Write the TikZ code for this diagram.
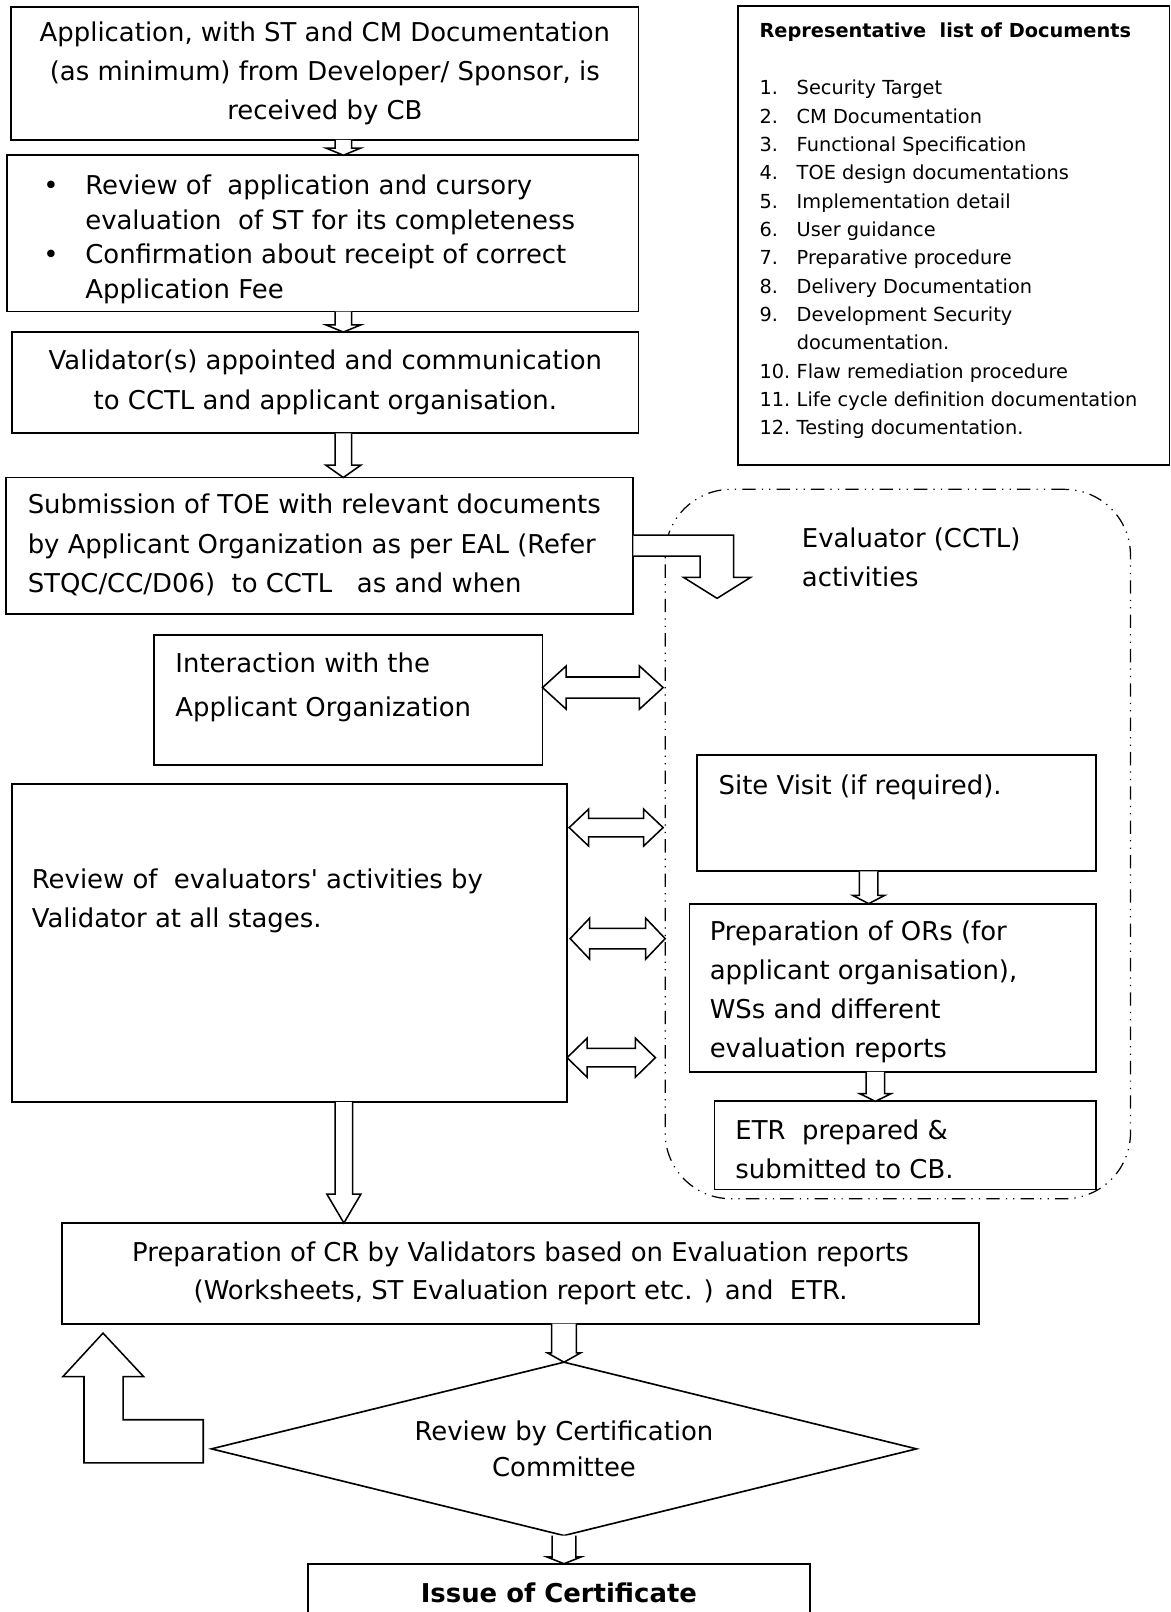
\documentclass[tikz,border=0pt]{standalone}
\usepackage{fontspec}
\setmainfont{DejaVu Sans}
\usetikzlibrary{calc,fit,shapes.geometric}

\newcommand{\vblock}[5]{%
  \draw[blk] ($(#1)+(-#3,0)$) -- ($(#2)+(-#3,-#5)$) -- ($(#2)+(-#4,-#5)$) -- (#2)
    -- ($(#2)+(#4,-#5)$) -- ($(#2)+(#3,-#5)$) -- ($(#1)+(#3,0)$);}
\newcommand{\hblock}[5]{%
  \draw[blk] (#1) -- ($(#1)+(#5,-#4)$) -- ($(#1)+(#5,-#3)$) -- ($(#2)+(-#5,-#3)$)
    -- ($(#2)+(-#5,-#4)$) -- (#2) -- ($(#2)+(-#5,#4)$) -- ($(#2)+(-#5,#3)$)
    -- ($(#1)+(#5,#3)$) -- ($(#1)+(#5,#4)$) -- cycle;}

\begin{document}
\begin{tikzpicture}[x=0.5pt, y=-0.5pt,
    box/.style={draw, line width=0.9pt, inner sep=0pt, outer sep=0pt},
    txt/.style={inner sep=0pt, outer sep=0pt, font=\fontsize{12.6}{19}\selectfont},
    blk/.style={draw, fill=white, line width=0.75pt, line join=miter},
    evalbox/.style={draw, line width=0.6pt, inner sep=0pt, outer sep=0pt, rounded corners=32pt,
      dash pattern=on 6.5pt off 3pt on 0.6pt off 3pt on 0.6pt off 3pt}]

    \useasboundingbox (0,0) rectangle (1139,1568);

    \node[evalbox, fit={(647,476) (1099.6,1166)}] (ev) {};
    \node[txt, anchor=west, align=left] (evT) at (780,542) {Evaluator (CCTL)\\activities};

    \node[box, fit={(11,6.5) (621,136)}] (app) {};
    \node[txt, align=center] (appT) at (app.center)
        {Application, with ST and CM Documentation\\(as minimum) from Developer/ Sponsor, is\\received by CB};
    \node[box, fit={(7,151) (621,303)}] (chk) {};
    \node[txt, anchor=west, align=left, font=\fontsize{12.6}{16.8}\selectfont] (chkT) at (83,233)
        {\llap{\textbullet\hspace{13pt}}Review of~ application and cursory\\evaluation~ of ST for its completeness\\
         \llap{\textbullet\hspace{13pt}}Confirmation about receipt of correct\\Application Fee};
    \node[box, fit={(11.9,323) (621,421.5)}] (val) {};
    \node[txt, align=center, font=\fontsize{12.6}{19.5}\selectfont] (valT) at (val.center)
        {Validator(s) appointed and communication\\to CCTL and applicant organisation.};
    \node[box, fit={(6,464.5) (616,597)}] (sub) {};
    \node[txt, anchor=west, align=left] (subT) at (27,530)
        {Submission of TOE with relevant documents\\by Applicant Organization as per EAL (Refer\\STQC/CC/D06)~ to CCTL~~ as and when};

    \node[box, fit={(718,6) (1137.5,452.4)}] (lst) {};
    \node[txt, anchor=west, font=\bfseries\fontsize{9.4}{11}\selectfont] (lstT) at (738.8,31)
        {Representative~ list of Documents};
    \node[txt, anchor=north west, font=\fontsize{9.4}{13.78}\selectfont] (docs) at (738.8,72.9)
        {\begin{tabular}{@{}p{18.1pt}@{}l@{}}
         1. & Security Target\\
         2. & CM Documentation\\
         3. & Functional Specification\\
         4. & TOE design documentations\\
         5. & Implementation detail\\
         6. & User guidance\\
         7. & Preparative procedure\\
         8. & Delivery Documentation\\
         9. & Development Security\\
            & documentation.\\
         10. & Flaw remediation procedure\\
         11. & Life cycle definition documentation\\
         12. & Testing documentation.
         \end{tabular}};

    \node[box, fit={(150,618) (527.7,744)}] (inter) {};
    \node[txt, anchor=west, align=left, font=\fontsize{12.6}{21.3}\selectfont] (interT) at (170.7,668.3)
        {Interaction with the\\Applicant Organization};
    \node[box, fit={(12,763) (551.6,1072)}] (rev) {};
    \node[txt, anchor=west, align=left] (revT) at (31,876.6)
        {Review of~ evaluators\textquotesingle\ activities by\\Validator at all stages.};

    \node[box, fit={(678,734) (1066,847.5)}] (site) {};
    \node[txt, anchor=west] (siteT) at (699,766) {Site Visit (if required).};
    \node[box, fit={(670.6,879) (1066,1042.7)}] (ors) {};
    \node[txt, anchor=west, align=left, font=\fontsize{12.6}{18.9}\selectfont] (orsT) at (690.4,964.7)
        {Preparation of ORs (for\\applicant organisation),\\WSs and different\\evaluation reports};
    \node[box, fit={(695,1071.3) (1066,1157)}] (etr) {};
    \node[txt, anchor=west, align=left, font=\fontsize{12.6}{18.65}\selectfont] (etrT) at (715.4,1118)
        {ETR~ prepared \&\\submitted to CB.};

    \node[box, fit={(60.2,1189.6) (952.5,1287.6)}] (pcr) {};
    \node[txt, align=center, font=\fontsize{12.6}{18.75}\selectfont] (pcrT) at (pcr.center)
        {Preparation of CR by Validators based on Evaluation reports\\(Worksheets, ST Evaluation report etc. ) and~ ETR.};
    \node[box, txt, diamond, aspect=4.07, minimum width=342.9pt, minimum height=84.3pt, line width=0.8pt,
        align=center, font=\fontsize{12.6}{17.8}\selectfont] (cc) at (548.6,1409.3)
        {Review by Certification\\Committee};
    \node[box, fit={(299.6,1521) (787.7,1575)}] (iss) {};
    \node[txt, font=\bfseries\fontsize{12.6}{19}\selectfont] (issT) at ($(iss.north)+(0,28.5)$)
        {Issue of Certificate};

    \coordinate (a1t) at ($(app.south)+(18,0)$);
    \coordinate (a2t) at ($(chk.south)+(20,0)$);
    \coordinate (a3t) at ($(val.south)+(17.5,0)$);
    \coordinate (a4t) at ($(site.south)+(-27,0)$);
    \coordinate (a5t) at ($(ors.south)+(-16.8,0)$);
    \coordinate (a6t) at ($(rev.south)+(52.7,0)$);
    \coordinate (a7t) at (cc.north |- pcr.south);
    \vblock{a1t}{a1t |- chk.north}{8}{17}{7}
    \vblock{a2t}{a2t |- val.north}{8}{17}{7}
    \vblock{a3t}{a3t |- sub.north}{8}{17}{12}
    \vblock{a4t}{a4t |- ors.north}{9}{15.4}{8}
    \vblock{a5t}{a5t |- etr.north}{9}{15.2}{7.5}
    \vblock{a6t}{a6t |- pcr.north}{8.5}{16.5}{28}
    \vblock{a7t}{cc.north}{12}{16}{9}
    \vblock{cc.south}{cc.south |- iss.north}{11.5}{16.5}{6.5}

    \coordinate (d1l) at ($(inter.east)+(0,-12.2)$);
    \coordinate (d2l) at ($(rev.east)+(2,-112.5)$);
    \coordinate (d3l) at ($(rev.east)+(3,-4.5)$);
    \coordinate (d4l) at ($(rev.east)+(0,111.3)$);
    \hblock{d1l}{$(d1l -| ev.west)+(-2,0)$}{10.3}{21}{23}
    \hblock{d2l}{$(d2l -| ev.west)+(-2,0)$}{9}{18}{19}
    \hblock{d3l}{d3l -| ev.west}{10}{20}{19}
    \hblock{d4l}{$(d4l -| ev.west)+(-9.5,0)$}{9}{19}{19.5}

    \draw[blk] ($(sub.north east)+(0,56.1)$) -- ++(97.5,0) -- ++(0,41.1) -- ++(16.5,0) -- ++(-32.5,20.3)
        -- ++(-32.5,-20.3) -- ++(16,0) -- ++(0,-20.7) -- ++(-65,0);
    \draw[blk] ($(cc.west)+(-8,13.7)$) -- ++(-116,0) -- ++(0,-84) -- ++(-20.5,0) -- ++(39,-42.3)
        -- ++(39.5,42.3) -- ++(-20,0) -- ++(0,42) -- ++(78,0) -- cycle;

\end{tikzpicture}
\end{document}
